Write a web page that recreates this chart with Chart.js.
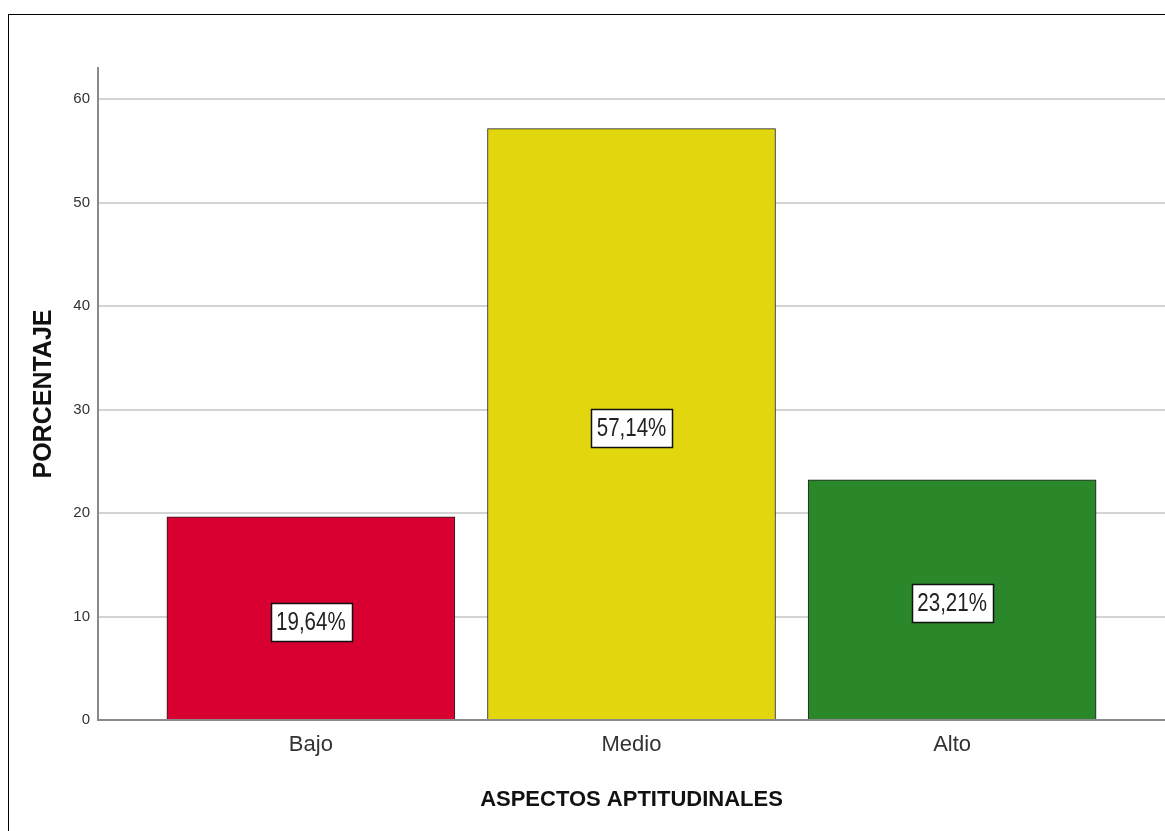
<!DOCTYPE html>
<html>
<head>
<meta charset="utf-8">
<script src="https://cdn.jsdelivr.net/npm/chart.js@4/dist/chart.umd.min.js"></script>
<style>
  html, body { margin: 0; padding: 0; background: #fff; overflow: hidden; }
  #wrap { position: relative; width: 1165px; height: 831px; }
  #frame { position: absolute; left: 8px; top: 14px; width: 1200px; height: 900px; border: 1px solid #000; pointer-events: none; }
</style>
</head>
<body>
<div id="wrap">
  <canvas id="chart" width="1165" height="831"></canvas>
  <div id="frame"></div>
</div>
<script>
const categories = ["Bajo", "Medio", "Alto"];
const percentages = [19.64, 57.14, 23.21];
const percentLabels = ["19,64%", "57,14%", "23,21%"];
const barColors = ["#d70030", "#e2d70e", "#2a872a"];
const yTicks = [0, 10, 20, 30, 40, 50, 60];

const regular = "'Liberation Sans', Arial, sans-serif";

// etiquetas blancas con borde en el centro de cada barra (texto estrechado)
const boxLabels = {
  id: "boxLabels",
  afterDatasetsDraw(chart) {
    const ctx = chart.ctx;
    const meta = chart.getDatasetMeta(0);
    const squeeze = 0.82;
    ctx.save();
    ctx.font = "25px " + regular;
    ctx.textAlign = "center";
    ctx.textBaseline = "middle";
    meta.data.forEach((bar, i) => {
      const cx = bar.x;
      const cy = (bar.y + bar.base) / 2 + 4;
      const w = ctx.measureText(percentLabels[i]).width * squeeze + 11;
      const h = 38;
      const x0 = Math.round(cx - w / 2) + 0.5;
      const y0 = Math.round(cy - h / 2) + 0.5;
      ctx.fillStyle = "#fff";
      ctx.fillRect(x0, y0, Math.round(w), h);
      ctx.strokeStyle = "#111";
      ctx.lineWidth = 1.5;
      ctx.strokeRect(x0, y0, Math.round(w), h);
      ctx.save();
      ctx.translate(cx, cy + 1);
      ctx.scale(squeeze, 1);
      ctx.fillStyle = "#222";
      ctx.fillText(percentLabels[i], 0, 0);
      ctx.restore();
    });
    ctx.restore();
  },
};

new Chart(document.getElementById("chart"), {
  type: "bar",
  data: {
    datasets: [
      {
        data: percentages.map((v, i) => ({ x: i, y: v })),
        backgroundColor: barColors,
        borderColor: "#222",
        borderWidth: 1,
        barThickness: 288,
      },
    ],
  },
  options: {
    responsive: false,
    animation: false,
    layout: { padding: { top: 68, left: 0, right: 0, bottom: 0 } },
    plugins: { legend: { display: false }, tooltip: { enabled: false } },
    scales: {
      x: {
        type: "linear",
        offset: false,
        min: -0.664,
        max: 2.664,
        afterBuildTicks: (axis) => {
          axis.ticks = categories.map((c, i) => ({ value: i }));
        },
        afterFit: (scale) => {
          scale.height = 111;
        },
        grid: { display: false, drawTicks: false, offset: false },
        border: { color: "#8a8a8a", width: 2 },
        ticks: {
          callback: (v) => categories[v],
          font: { family: regular, size: 22 },
          color: "#333",
          padding: 12,
          maxRotation: 0,
        },
        title: {
          display: true,
          text: "ASPECTOS APTITUDINALES",
          font: { family: regular, size: 22, weight: "bold" },
          color: "#111",
          padding: { top: 0, bottom: 18 },
        },
      },
      y: {
        min: 0,
        max: 63,
        afterBuildTicks: (axis) => {
          axis.ticks = yTicks.map((v) => ({ value: v }));
        },
        afterFit: (scale) => {
          scale.width = 98;
        },
        grid: { color: "#d4d4d4", lineWidth: 2, drawTicks: false },
        border: { color: "#8a8a8a", width: 2 },
        ticks: {
          font: { family: regular, size: 15 },
          color: "#333",
          padding: 8,
        },
        title: {
          display: true,
          text: "PORCENTAJE",
          font: { family: regular, size: 25, weight: "bold" },
          color: "#111",
          padding: { top: 29, bottom: 0 },
        },
      },
    },
  },
  plugins: [boxLabels],
});
</script>
</body>
</html>
